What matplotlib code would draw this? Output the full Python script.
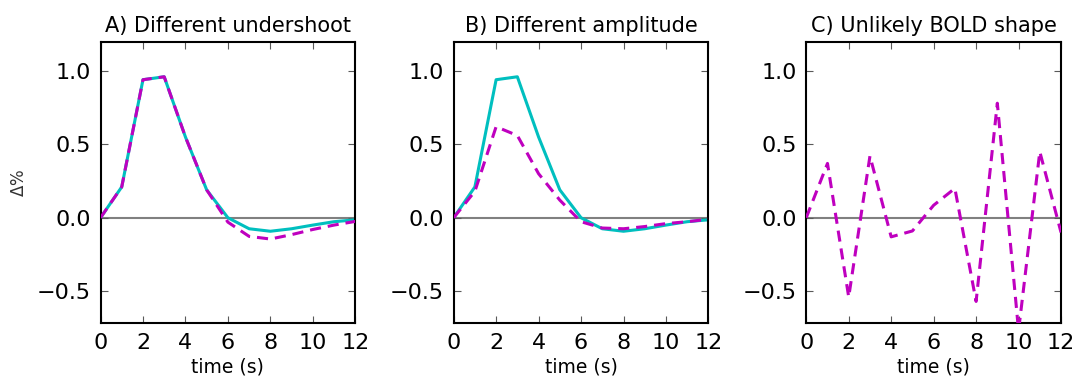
import matplotlib
matplotlib.use("Agg")
import matplotlib.pyplot as plt
import numpy as np

time_s = [0, 1, 2, 3, 4, 5, 6, 7, 8, 9, 10, 11, 12]

# Panel A
a_reference = [0.0, 0.21, 0.94, 0.96, 0.55, 0.19, 0.0, -0.075, -0.092, -0.075, -0.05, -0.027, -0.014]
a_undershoot = [0.0, 0.21, 0.94, 0.96, 0.55, 0.19, -0.03, -0.127, -0.145, -0.115, -0.08, -0.05, -0.025]

# Panel B
b_reference = a_reference
b_amplitude = [0.0, 0.18, 0.62, 0.56, 0.30, 0.12, -0.027, -0.07, -0.075, -0.06, -0.04, -0.027, -0.01]

# Panel C
c_unlikely = [0.0, 0.37, -0.54, 0.42, -0.13, -0.09, 0.085, 0.2, -0.57, 0.78, -0.77, 0.45, -0.1]

titles = ["A) Different undershoot", "B) Different amplitude", "C) Unlikely BOLD shape"]
xticks = [0, 2, 4, 6, 8, 10, 12]
yticks = [-0.5, 0.0, 0.5, 1.0]

plt.rcParams['lines.scale_dashes'] = False

fig = plt.figure(figsize=(10.75, 3.81), dpi=100)
lefts = [0.0935, 0.422, 0.750]
width = 0.237
bottom = 0.151
height = 0.740

cyan = (0.0, 0.75, 0.75)
magenta = (0.75, 0.0, 0.75)

panels = [
    (a_reference, a_undershoot),
    (b_reference, b_amplitude),
    (None, c_unlikely),
]

for i, (ref, alt) in enumerate(panels):
    ax = fig.add_axes([lefts[i], bottom, width, height])
    ax.axhline(0, color='0.5', lw=1.5, zorder=1)
    if ref is not None:
        ax.plot(time_s, ref, color=cyan, lw=2.2, zorder=2)
    ax.plot(time_s, alt, color=magenta, lw=2.2, dashes=(8, 5), zorder=3)
    ax.set_xlim(0, 12)
    ax.set_ylim(-0.72, 1.2)
    ax.set_xticks(xticks)
    ax.set_yticks(yticks)
    ax.set_xticklabels([str(t) for t in xticks])
    ax.set_yticklabels(["\u22120.5", "0.0", "0.5", "1.0"])
    ax.tick_params(direction='in', top=True, right=True, length=5, width=0.8,
                   color='0.35', labelsize=16, pad=7)
    for sp in ax.spines.values():
        sp.set_linewidth(1.5)
    ax.set_title(titles[i], fontsize=15, pad=7)
    ax.set_xlabel("time (s)", fontsize=13.5, labelpad=3)
    if i == 0:
        ax.set_ylabel(r"$\Delta\%$", fontsize=12, color='0.2', labelpad=6)

fig.savefig("out.png", dpi=100)
